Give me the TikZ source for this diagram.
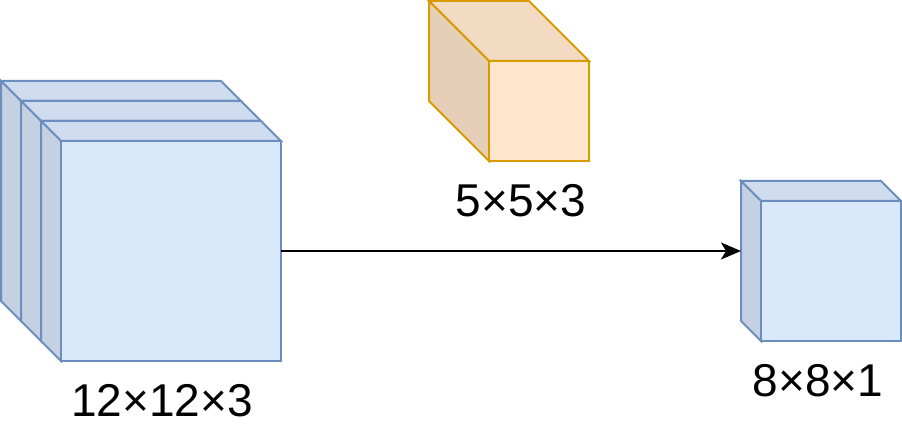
\documentclass[tikz,border=0pt]{standalone}
\usepackage{fontspec}
\setmainfont{Liberation Sans}
\usetikzlibrary{arrows.meta}
\definecolor{bfill}{HTML}{DAE8FC}
\definecolor{btop}{HTML}{CFDCEF}
\definecolor{bside}{HTML}{C4D1E3}
\definecolor{bline}{HTML}{6C8EBF}
\definecolor{ofill}{HTML}{FFE6CC}
\definecolor{otop}{HTML}{F2DBC2}
\definecolor{oside}{HTML}{E6CFB8}
\definecolor{oline}{HTML}{D79B00}
% #1 name, #2 x, #3 y, #4 size (bbox), #5 depth, #6 fill, #7 top, #8 side, #9 line
\newcommand{\mycube}[9]{%
  \pgfmathsetmacro{\cx}{#2}\pgfmathsetmacro{\cy}{#3}%
  \pgfmathsetmacro{\cw}{#4}\pgfmathsetmacro{\cd}{#5}%
  \filldraw[fill=#7,draw=#9,cubeline] (\cx,\cy) -- (\cx+\cw-\cd,\cy) -- (\cx+\cw,\cy+\cd) -- (\cx+\cd,\cy+\cd) -- cycle;
  \filldraw[fill=#8,draw=#9,cubeline] (\cx,\cy) -- (\cx+\cd,\cy+\cd) -- (\cx+\cd,\cy+\cw) -- (\cx,\cy+\cw-\cd) -- cycle;
  \node[facebox,fill=#6,draw=#9,minimum width=(\cw-\cd)*1pt,minimum height=(\cw-\cd)*1pt] (#1) at (\cx+\cd/2+\cw/2,\cy+\cd/2+\cw/2) {};
}
\tikzset{
  cubeline/.style={line width=2pt,line join=miter},
  facebox/.style={rectangle,inner sep=0pt,outer sep=0pt,line width=2pt},
  lbl/.style={font=\fontsize{46}{50}\selectfont,anchor=base,inner sep=0pt},
  conn/.style={line width=2pt,-{Stealth[length=20pt,width=17pt,inset=5pt]}}
}
\begin{document}
\begin{tikzpicture}[x=1pt,y=-1pt]
\useasboundingbox (0,0) rectangle (902,430);
\mycube{c1}{1}{81}{240}{20}{bfill}{btop}{bside}{bline}
\mycube{c2}{21}{101}{240}{20}{bfill}{btop}{bside}{bline}
\mycube{c3}{41}{121}{240}{20}{bfill}{btop}{bside}{bline}
\mycube{k}{429}{1}{160}{60}{ofill}{otop}{oside}{oline}
\mycube{s}{741}{181}{160}{20}{bfill}{btop}{bside}{bline}
\coordinate (sback) at (741,251);
\draw[conn] (c3.east) -- (c3.east -| sback);
\node[lbl] (l1) at (162,416) {12×12×3};
\node[lbl] (l2) at (521,217) {5×5×3};
\node[lbl] (l3) at (818,396) {8×8×1};
\end{tikzpicture}
\end{document}
